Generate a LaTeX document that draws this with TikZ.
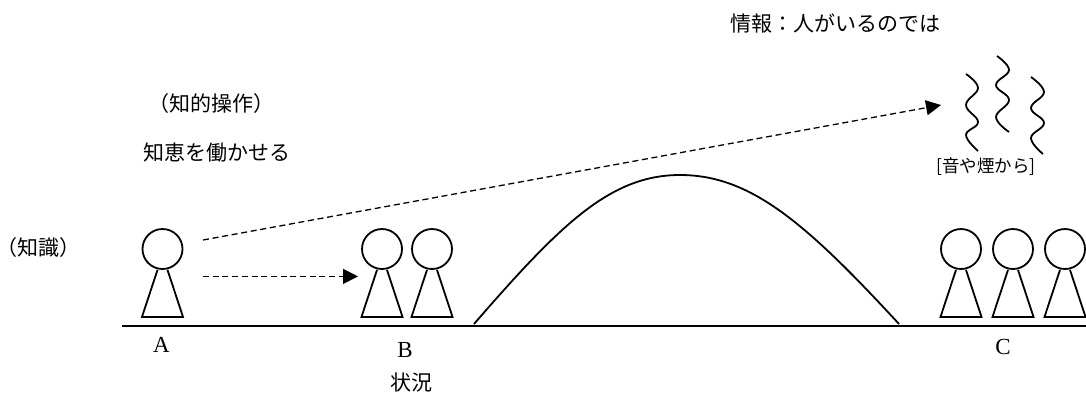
\documentclass[tikz,border=0pt]{standalone}
\usepackage{fontspec}
\usetikzlibrary{arrows.meta}
\newfontfamily\jpfont{Noto Sans CJK JP}
\newfontfamily\latinfont{Liberation Serif}
\newcommand{\person}[2]{%
  \node[head] (#1) at (#2,249) {};
  \draw[thick line] ([xshift=-5pt]#1.south) -- ([xshift=-20.5pt,yshift=-47pt]#1.south)
    -- ([xshift=20.5pt,yshift=-47pt]#1.south) -- ([xshift=5pt]#1.south);
}
\begin{document}
\begin{tikzpicture}[x=1pt,y=-1pt,
                    thick line/.style={line width=1.8pt,line join=miter},
                    head/.style={circle,draw,line width=1.8pt,inner sep=0pt,minimum size=40pt},
                    txt/.style={inner sep=0pt,font=\fontsize{21}{24}\jpfont},
                    letter/.style={inner sep=0pt,font=\fontsize{23}{24}\latinfont},
                    flow/.style={dashed,line width=1.3pt,dash pattern=on 6pt off 3.7pt,
                                 -{Triangle[length=15pt,width=15pt]}}]
  \useasboundingbox (0,0) rectangle (1086,394);
  % ground and hill
  \coordinate (gl) at (122,326);
  \coordinate (gr) at (1086,326);
  \draw[line width=2.4pt] (gl)--(gr);
  \coordinate (hl) at (474,324);
  \coordinate (ht) at (680,175);
  \coordinate (hr) at (899,324);
  \draw[thick line] (hl) .. controls (560,225) and (610,175) .. (ht)
                         .. controls (750,175) and (805,222) .. (hr);
  % people
  \person{a}{162.5}
  \person{b1}{382}
  \person{b2}{432}
  \person{c1}{961}
  \person{c2}{1013}
  \person{c3}{1065}
  % arrows
  \coordinate (s1) at (203,276.4);
  \coordinate (e1) at (358,276.4);
  \coordinate (s2) at (203,240);
  \coordinate (e2) at (941,105);
  \draw[flow] (s1)--(e1);
  \draw[flow] (s2)--(e2);
  % smoke
  \draw[thick line] plot[smooth,tension=0.7] coordinates {(966,74) (978,88) (966,105) (978,122) (966,135) (978,151)};
  \draw[thick line] plot[smooth,tension=0.7] coordinates {(997,56) (1009,70) (996,85) (1009,100) (996,117) (1009,132)};
  \draw[thick line] plot[smooth,tension=0.7] coordinates {(1031,77) (1044,92) (1031,108) (1044,123) (1031,138) (1043,154)};
  % labels
  \node[txt] (info)  at (835,23)  {情報：人がいるのでは};
  \node[txt] (op)    at (211,104) {（知的操作）};
  \node[txt] (wit)   at (217,153) {知恵を働かせる};
  \node[txt] (know)  at (38,248)  {（知識）};
  \node[txt] (sit)   at (411,383) {状況};
  \node[txt,font=\fontsize{17.5}{20}\jpfont] (src) at (986,167) {[音や煙から]};
  \node[letter] (la) at (161.5,345) {A};
  \node[letter] (lb) at (405,350)   {B};
  \node[letter] (lc) at (1003,347)  {C};
\end{tikzpicture}
\end{document}
